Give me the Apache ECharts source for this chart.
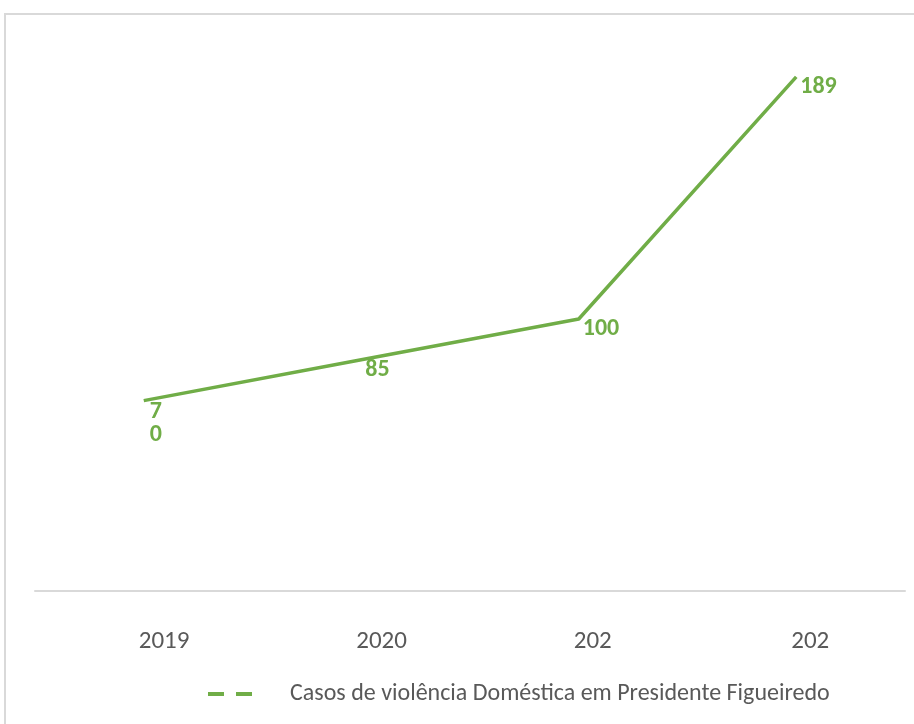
<!DOCTYPE html>
<html>
<head>
<meta charset="utf-8">
<script src="https://cdn.jsdelivr.net/npm/echarts@6/dist/echarts.min.js"></script>
<style>
html,body{margin:0;padding:0;background:#fff;}
#c{width:914px;height:724px;}
</style>
</head>
<body>
<div id="c"></div>
<script>
const categories = ["2019", "2020", "202", "202"];
const seriesName = "Casos de violência Doméstica em Presidente Figueiredo";
const values = [70, 85, 100, 189];

const FONT = "Carlito, 'Liberation Sans Narrow', 'Open Sans', 'Noto Sans', sans-serif";
const GREEN = "#70ad47";

const chart = echarts.init(document.getElementById('c'));
const seriesData = values.map((v, i) => {
  const item = { value: v };
  if (i === 0) {
    item.label = { width: 14, overflow: 'breakAll', offset: [2, 23], lineHeight: 23 };
  }
  return item;
});

chart.setOption({
  animation: false,
  backgroundColor: '#fff',
  graphic: [{
    type: 'rect',
    shape: { x: 5, y: 14, width: 940, height: 740 },
    style: { fill: 'none', stroke: '#d9d9d9', lineWidth: 2 },
    silent: true,
    z: -1
  }],
  grid: { left: 35, right: 9, top: 47, bottom: 133, containLabel: false },
  xAxis: {
    type: 'category',
    data: categories,
    boundaryGap: true,
    axisLine: { show: true, lineStyle: { color: '#d9d9d9', width: 2 } },
    axisTick: { show: false },
    axisLabel: {
      color: '#595959',
      fontFamily: FONT,
      fontSize: 25,
      margin: 38,
      align: 'left',
      padding: [0, 0, 0, -5]
    }
  },
  yAxis: {
    type: 'value',
    min: 0,
    max: 200,
    show: false,
    splitLine: { show: false }
  },
  legend: {
    show: true,
    bottom: 13,
    left: 203,
    itemWidth: 44,
    itemHeight: 5,
    icon: 'path://M0,0 H16 V4 H0 Z M28,0 H44 V4 H28 Z',
    textStyle: { color: '#595959', fontFamily: FONT, fontSize: 24, padding: [0, 0, 0, 33] },
    data: [{ name: seriesName, itemStyle: { color: GREEN } }]
  },
  series: [{
    name: seriesName,
    type: 'line',
    data: seriesData,
    showSymbol: true,
    symbol: 'circle',
    symbolSize: 0,
    lineStyle: { color: GREEN, width: 3.5 },
    itemStyle: { color: GREEN },
    label: {
      show: true,
      position: 'right',
      distance: 4,
      offset: [0, 10],
      color: GREEN,
      fontWeight: 'bold',
      fontFamily: FONT,
      fontSize: 24
    }
  }]
});
</script>
</body>
</html>
